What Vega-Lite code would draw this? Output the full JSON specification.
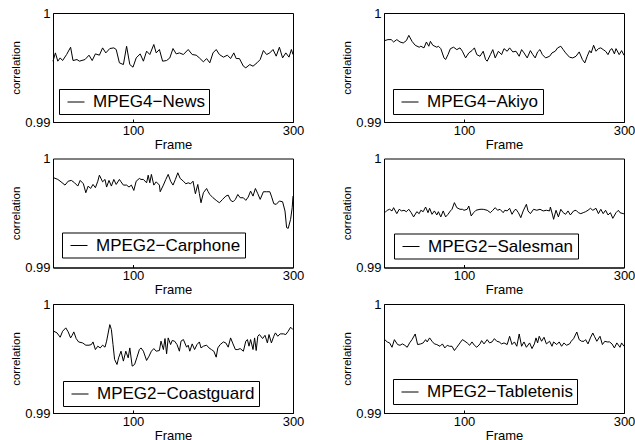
{
  "$schema": "https://vega.github.io/schema/vega-lite/v6.json",
  "padding": {"left": 10, "top": 6, "right": 0, "bottom": 0},
  "bounds": "flush",
  "columns": 2,
  "spacing": {"row": 36.5, "column": 91},
  "datasets": {
    "news": [
      {"frame":0,"corr":0.99558},{"frame":3,"corr":0.99634},{"frame":6,"corr":0.99558},{"frame":9,"corr":0.99588},{"frame":12,"corr":0.99564},{"frame":17,"corr":0.99619},{"frame":22,"corr":0.99686},{"frame":25,"corr":0.99564},{"frame":30,"corr":0.99573},{"frame":33,"corr":0.99558},{"frame":40,"corr":0.99573},{"frame":45,"corr":0.99613},{"frame":49,"corr":0.99564},{"frame":53,"corr":0.99625},{"frame":58,"corr":0.99613},{"frame":62,"corr":0.9968},{"frame":66,"corr":0.99634},{"frame":71,"corr":0.99674},{"frame":76,"corr":0.9968},{"frame":79,"corr":0.99665},{"frame":83,"corr":0.99543},{"frame":88,"corr":0.99527},{"frame":92,"corr":0.99695},{"frame":96,"corr":0.99527},{"frame":100,"corr":0.99503},{"frame":104,"corr":0.99588},{"frame":109,"corr":0.99625},{"frame":113,"corr":0.99558},{"frame":117,"corr":0.9965},{"frame":121,"corr":0.99619},{"frame":126,"corr":0.99711},{"frame":129,"corr":0.99634},{"frame":133,"corr":0.99665},{"frame":137,"corr":0.99558},{"frame":142,"corr":0.99564},{"frame":146,"corr":0.99588},{"frame":150,"corr":0.99674},{"frame":154,"corr":0.99625},{"frame":158,"corr":0.99634},{"frame":163,"corr":0.99619},{"frame":169,"corr":0.99665},{"frame":174,"corr":0.99619},{"frame":179,"corr":0.99613},{"frame":183,"corr":0.99588},{"frame":188,"corr":0.99552},{"frame":192,"corr":0.99582},{"frame":196,"corr":0.99543},{"frame":200,"corr":0.99634},{"frame":204,"corr":0.99665},{"frame":208,"corr":0.99619},{"frame":213,"corr":0.99595},{"frame":218,"corr":0.99613},{"frame":222,"corr":0.99582},{"frame":226,"corr":0.99634},{"frame":229,"corr":0.99582},{"frame":233,"corr":0.99582},{"frame":238,"corr":0.99512},{"frame":241,"corr":0.99497},{"frame":246,"corr":0.99527},{"frame":250,"corr":0.99512},{"frame":255,"corr":0.99543},{"frame":259,"corr":0.99573},{"frame":263,"corr":0.99656},{"frame":267,"corr":0.99619},{"frame":271,"corr":0.99634},{"frame":275,"corr":0.99665},{"frame":279,"corr":0.99604},{"frame":283,"corr":0.99686},{"frame":287,"corr":0.99588},{"frame":291,"corr":0.99634},{"frame":295,"corr":0.99595},{"frame":298,"corr":0.99665},{"frame":300,"corr":0.99619}
    ],
    "akiyo": [
      {"frame":1,"corr":0.99747},{"frame":5,"corr":0.99756},{"frame":9,"corr":0.99756},{"frame":12,"corr":0.99734},{"frame":16,"corr":0.99756},{"frame":20,"corr":0.99734},{"frame":24,"corr":0.99725},{"frame":28,"corr":0.99747},{"frame":31,"corr":0.99795},{"frame":35,"corr":0.9974},{"frame":39,"corr":0.99704},{"frame":44,"corr":0.99686},{"frame":46,"corr":0.99695},{"frame":50,"corr":0.9968},{"frame":53,"corr":0.99734},{"frame":56,"corr":0.99695},{"frame":58,"corr":0.9974},{"frame":61,"corr":0.99704},{"frame":66,"corr":0.99686},{"frame":68,"corr":0.99695},{"frame":71,"corr":0.99673},{"frame":75,"corr":0.99588},{"frame":77,"corr":0.99573},{"frame":80,"corr":0.99618},{"frame":83,"corr":0.99673},{"frame":87,"corr":0.99686},{"frame":91,"corr":0.99664},{"frame":95,"corr":0.9968},{"frame":98,"corr":0.99649},{"frame":102,"corr":0.99588},{"frame":106,"corr":0.99634},{"frame":110,"corr":0.99655},{"frame":113,"corr":0.9968},{"frame":116,"corr":0.99618},{"frame":120,"corr":0.99603},{"frame":124,"corr":0.99649},{"frame":127,"corr":0.99573},{"frame":129,"corr":0.99558},{"frame":133,"corr":0.99618},{"frame":136,"corr":0.99664},{"frame":139,"corr":0.99588},{"frame":143,"corr":0.99649},{"frame":147,"corr":0.99618},{"frame":150,"corr":0.99673},{"frame":154,"corr":0.99649},{"frame":157,"corr":0.9968},{"frame":161,"corr":0.99643},{"frame":165,"corr":0.99649},{"frame":169,"corr":0.99603},{"frame":172,"corr":0.99664},{"frame":175,"corr":0.99634},{"frame":179,"corr":0.99588},{"frame":183,"corr":0.99655},{"frame":186,"corr":0.99618},{"frame":189,"corr":0.99588},{"frame":192,"corr":0.99643},{"frame":195,"corr":0.99664},{"frame":198,"corr":0.99618},{"frame":202,"corr":0.99588},{"frame":207,"corr":0.99603},{"frame":210,"corr":0.99634},{"frame":214,"corr":0.99649},{"frame":217,"corr":0.9968},{"frame":221,"corr":0.99695},{"frame":224,"corr":0.99664},{"frame":227,"corr":0.99634},{"frame":232,"corr":0.99594},{"frame":236,"corr":0.99588},{"frame":240,"corr":0.99603},{"frame":244,"corr":0.99643},{"frame":248,"corr":0.99573},{"frame":251,"corr":0.99542},{"frame":254,"corr":0.99603},{"frame":257,"corr":0.99655},{"frame":259,"corr":0.99634},{"frame":262,"corr":0.99704},{"frame":265,"corr":0.99649},{"frame":268,"corr":0.99673},{"frame":271,"corr":0.9968},{"frame":274,"corr":0.99664},{"frame":277,"corr":0.99649},{"frame":280,"corr":0.99618},{"frame":283,"corr":0.99664},{"frame":285,"corr":0.99673},{"frame":288,"corr":0.99625},{"frame":290,"corr":0.99673},{"frame":294,"corr":0.99618},{"frame":297,"corr":0.99655},{"frame":300,"corr":0.99612}
    ],
    "carphone": [
      {"frame":1,"corr":0.99823},{"frame":6,"corr":0.99808},{"frame":10,"corr":0.99786},{"frame":15,"corr":0.99756},{"frame":19,"corr":0.99792},{"frame":23,"corr":0.99799},{"frame":27,"corr":0.99777},{"frame":31,"corr":0.99747},{"frame":34,"corr":0.99799},{"frame":38,"corr":0.99768},{"frame":41,"corr":0.99686},{"frame":44,"corr":0.99747},{"frame":47,"corr":0.99725},{"frame":50,"corr":0.99762},{"frame":53,"corr":0.99732},{"frame":56,"corr":0.99792},{"frame":58,"corr":0.99847},{"frame":62,"corr":0.99786},{"frame":65,"corr":0.99808},{"frame":67,"corr":0.99738},{"frame":70,"corr":0.99799},{"frame":73,"corr":0.99747},{"frame":76,"corr":0.99808},{"frame":79,"corr":0.99762},{"frame":83,"corr":0.99808},{"frame":85,"corr":0.99786},{"frame":88,"corr":0.99756},{"frame":92,"corr":0.99756},{"frame":95,"corr":0.99738},{"frame":98,"corr":0.99756},{"frame":101,"corr":0.99707},{"frame":104,"corr":0.99792},{"frame":108,"corr":0.99817},{"frame":110,"corr":0.99808},{"frame":113,"corr":0.99808},{"frame":117,"corr":0.99777},{"frame":119,"corr":0.99847},{"frame":121,"corr":0.99777},{"frame":123,"corr":0.99854},{"frame":126,"corr":0.99756},{"frame":129,"corr":0.99786},{"frame":133,"corr":0.99756},{"frame":134,"corr":0.99695},{"frame":138,"corr":0.99756},{"frame":141,"corr":0.99808},{"frame":144,"corr":0.99854},{"frame":147,"corr":0.99792},{"frame":150,"corr":0.99756},{"frame":153,"corr":0.99808},{"frame":156,"corr":0.99869},{"frame":159,"corr":0.99817},{"frame":163,"corr":0.99792},{"frame":166,"corr":0.99768},{"frame":169,"corr":0.99777},{"frame":172,"corr":0.99768},{"frame":175,"corr":0.99792},{"frame":178,"corr":0.99677},{"frame":181,"corr":0.99762},{"frame":183,"corr":0.99677},{"frame":185,"corr":0.99594},{"frame":188,"corr":0.99686},{"frame":192,"corr":0.99725},{"frame":194,"corr":0.99695},{"frame":196,"corr":0.9967},{"frame":200,"corr":0.9964},{"frame":204,"corr":0.99616},{"frame":208,"corr":0.99594},{"frame":212,"corr":0.99625},{"frame":216,"corr":0.99655},{"frame":219,"corr":0.99664},{"frame":222,"corr":0.99616},{"frame":225,"corr":0.99603},{"frame":228,"corr":0.99625},{"frame":231,"corr":0.9967},{"frame":234,"corr":0.9964},{"frame":238,"corr":0.9964},{"frame":241,"corr":0.99616},{"frame":244,"corr":0.99646},{"frame":247,"corr":0.99701},{"frame":250,"corr":0.99655},{"frame":253,"corr":0.99725},{"frame":256,"corr":0.99677},{"frame":259,"corr":0.99625},{"frame":263,"corr":0.99695},{"frame":267,"corr":0.99695},{"frame":271,"corr":0.99695},{"frame":273,"corr":0.99655},{"frame":276,"corr":0.99585},{"frame":279,"corr":0.99579},{"frame":283,"corr":0.9961},{"frame":287,"corr":0.99603},{"frame":290,"corr":0.99518},{"frame":292,"corr":0.99366},{"frame":294,"corr":0.99359},{"frame":297,"corr":0.99442},{"frame":299,"corr":0.99549},{"frame":300,"corr":0.99655}
    ],
    "salesman": [
      {"frame":1,"corr":0.99503},{"frame":4,"corr":0.99525},{"frame":7,"corr":0.99534},{"frame":10,"corr":0.99519},{"frame":12,"corr":0.99549},{"frame":16,"corr":0.99494},{"frame":19,"corr":0.99534},{"frame":22,"corr":0.99519},{"frame":25,"corr":0.99525},{"frame":28,"corr":0.99512},{"frame":31,"corr":0.99534},{"frame":34,"corr":0.99503},{"frame":37,"corr":0.99464},{"frame":41,"corr":0.99512},{"frame":44,"corr":0.99494},{"frame":46,"corr":0.99525},{"frame":49,"corr":0.99512},{"frame":52,"corr":0.99555},{"frame":55,"corr":0.99503},{"frame":57,"corr":0.99543},{"frame":60,"corr":0.99488},{"frame":63,"corr":0.99519},{"frame":66,"corr":0.99482},{"frame":68,"corr":0.99512},{"frame":71,"corr":0.99464},{"frame":74,"corr":0.99519},{"frame":77,"corr":0.99464},{"frame":80,"corr":0.99488},{"frame":83,"corr":0.99519},{"frame":85,"corr":0.99534},{"frame":88,"corr":0.99595},{"frame":91,"corr":0.99549},{"frame":95,"corr":0.99534},{"frame":98,"corr":0.99534},{"frame":100,"corr":0.99525},{"frame":104,"corr":0.99534},{"frame":106,"corr":0.99564},{"frame":109,"corr":0.99473},{"frame":112,"corr":0.99503},{"frame":115,"corr":0.99525},{"frame":120,"corr":0.99534},{"frame":124,"corr":0.99534},{"frame":129,"corr":0.99525},{"frame":133,"corr":0.99503},{"frame":136,"corr":0.99525},{"frame":139,"corr":0.99549},{"frame":142,"corr":0.99525},{"frame":145,"corr":0.99534},{"frame":149,"corr":0.99503},{"frame":151,"corr":0.99525},{"frame":154,"corr":0.99519},{"frame":157,"corr":0.99543},{"frame":160,"corr":0.99488},{"frame":163,"corr":0.99525},{"frame":165,"corr":0.99534},{"frame":168,"corr":0.99503},{"frame":171,"corr":0.99457},{"frame":174,"corr":0.99519},{"frame":178,"corr":0.9958},{"frame":180,"corr":0.99519},{"frame":183,"corr":0.99494},{"frame":187,"corr":0.99534},{"frame":191,"corr":0.99525},{"frame":195,"corr":0.99534},{"frame":199,"corr":0.99519},{"frame":203,"corr":0.99525},{"frame":207,"corr":0.99519},{"frame":208,"corr":0.99555},{"frame":211,"corr":0.99473},{"frame":212,"corr":0.99442},{"frame":215,"corr":0.99525},{"frame":218,"corr":0.99464},{"frame":221,"corr":0.99534},{"frame":224,"corr":0.99503},{"frame":227,"corr":0.99488},{"frame":230,"corr":0.99519},{"frame":233,"corr":0.99482},{"frame":237,"corr":0.99519},{"frame":240,"corr":0.99525},{"frame":243,"corr":0.99503},{"frame":246,"corr":0.99494},{"frame":249,"corr":0.99503},{"frame":252,"corr":0.99512},{"frame":255,"corr":0.99525},{"frame":258,"corr":0.99543},{"frame":261,"corr":0.99525},{"frame":265,"corr":0.99543},{"frame":268,"corr":0.99494},{"frame":271,"corr":0.99534},{"frame":274,"corr":0.99494},{"frame":277,"corr":0.99525},{"frame":280,"corr":0.99482},{"frame":283,"corr":0.99503},{"frame":286,"corr":0.99451},{"frame":290,"corr":0.99503},{"frame":293,"corr":0.99525},{"frame":295,"corr":0.99503},{"frame":299,"corr":0.99494},{"frame":300,"corr":0.99494}
    ],
    "coastguard": [
      {"frame":1,"corr":0.9975},{"frame":5,"corr":0.99735},{"frame":9,"corr":0.99695},{"frame":12,"corr":0.9975},{"frame":16,"corr":0.99781},{"frame":19,"corr":0.99744},{"frame":22,"corr":0.99689},{"frame":24,"corr":0.99713},{"frame":26,"corr":0.99744},{"frame":29,"corr":0.99683},{"frame":32,"corr":0.99652},{"frame":37,"corr":0.99643},{"frame":41,"corr":0.99622},{"frame":45,"corr":0.99622},{"frame":48,"corr":0.99628},{"frame":50,"corr":0.99652},{"frame":53,"corr":0.99582},{"frame":56,"corr":0.99613},{"frame":59,"corr":0.99597},{"frame":62,"corr":0.99622},{"frame":65,"corr":0.99604},{"frame":67,"corr":0.99659},{"frame":71,"corr":0.99811},{"frame":73,"corr":0.99765},{"frame":75,"corr":0.99628},{"frame":77,"corr":0.99491},{"frame":80,"corr":0.99445},{"frame":82,"corr":0.99506},{"frame":85,"corr":0.99567},{"frame":88,"corr":0.99476},{"frame":91,"corr":0.99567},{"frame":94,"corr":0.99506},{"frame":96,"corr":0.99597},{"frame":99,"corr":0.9943},{"frame":102,"corr":0.99445},{"frame":105,"corr":0.99512},{"frame":108,"corr":0.99582},{"frame":110,"corr":0.99597},{"frame":113,"corr":0.99567},{"frame":117,"corr":0.99482},{"frame":120,"corr":0.99521},{"frame":123,"corr":0.99567},{"frame":126,"corr":0.99591},{"frame":129,"corr":0.99567},{"frame":133,"corr":0.99573},{"frame":135,"corr":0.99659},{"frame":138,"corr":0.99582},{"frame":140,"corr":0.99683},{"frame":142,"corr":0.99543},{"frame":144,"corr":0.99689},{"frame":147,"corr":0.99628},{"frame":149,"corr":0.99665},{"frame":152,"corr":0.99659},{"frame":155,"corr":0.99628},{"frame":158,"corr":0.99567},{"frame":160,"corr":0.99659},{"frame":163,"corr":0.99674},{"frame":167,"corr":0.99604},{"frame":169,"corr":0.99622},{"frame":171,"corr":0.99567},{"frame":174,"corr":0.99634},{"frame":177,"corr":0.99582},{"frame":180,"corr":0.99628},{"frame":183,"corr":0.99652},{"frame":185,"corr":0.99597},{"frame":188,"corr":0.99613},{"frame":192,"corr":0.99622},{"frame":195,"corr":0.99597},{"frame":198,"corr":0.99582},{"frame":201,"corr":0.99567},{"frame":204,"corr":0.99512},{"frame":206,"corr":0.99597},{"frame":209,"corr":0.99628},{"frame":213,"corr":0.99652},{"frame":216,"corr":0.99643},{"frame":219,"corr":0.99604},{"frame":222,"corr":0.99689},{"frame":225,"corr":0.99634},{"frame":228,"corr":0.99582},{"frame":231,"corr":0.99582},{"frame":234,"corr":0.99591},{"frame":238,"corr":0.99567},{"frame":241,"corr":0.99659},{"frame":243,"corr":0.99674},{"frame":245,"corr":0.99613},{"frame":247,"corr":0.99674},{"frame":250,"corr":0.99582},{"frame":252,"corr":0.99689},{"frame":254,"corr":0.99573},{"frame":256,"corr":0.99704},{"frame":258,"corr":0.9972},{"frame":262,"corr":0.99683},{"frame":265,"corr":0.99713},{"frame":268,"corr":0.99643},{"frame":270,"corr":0.9972},{"frame":273,"corr":0.99643},{"frame":276,"corr":0.99704},{"frame":278,"corr":0.99735},{"frame":281,"corr":0.99704},{"frame":284,"corr":0.99726},{"frame":288,"corr":0.99726},{"frame":291,"corr":0.9972},{"frame":294,"corr":0.9975},{"frame":297,"corr":0.99787},{"frame":300,"corr":0.99765}
    ],
    "tabletenis": [
      {"frame":1,"corr":0.99673},{"frame":4,"corr":0.99652},{"frame":7,"corr":0.99643},{"frame":10,"corr":0.99603},{"frame":13,"corr":0.99673},{"frame":17,"corr":0.99628},{"frame":20,"corr":0.99621},{"frame":23,"corr":0.99634},{"frame":26,"corr":0.99621},{"frame":29,"corr":0.99603},{"frame":32,"corr":0.99643},{"frame":35,"corr":0.99673},{"frame":39,"corr":0.99725},{"frame":42,"corr":0.99628},{"frame":46,"corr":0.99634},{"frame":49,"corr":0.99643},{"frame":52,"corr":0.99673},{"frame":54,"corr":0.99652},{"frame":57,"corr":0.99689},{"frame":60,"corr":0.99658},{"frame":63,"corr":0.99634},{"frame":66,"corr":0.99628},{"frame":70,"corr":0.99612},{"frame":73,"corr":0.99634},{"frame":76,"corr":0.99597},{"frame":79,"corr":0.99621},{"frame":82,"corr":0.99612},{"frame":85,"corr":0.99612},{"frame":88,"corr":0.99573},{"frame":91,"corr":0.99603},{"frame":95,"corr":0.99643},{"frame":98,"corr":0.99673},{"frame":100,"corr":0.99664},{"frame":104,"corr":0.99643},{"frame":107,"corr":0.99621},{"frame":110,"corr":0.99652},{"frame":113,"corr":0.99621},{"frame":116,"corr":0.99603},{"frame":120,"corr":0.99634},{"frame":122,"corr":0.99664},{"frame":125,"corr":0.99634},{"frame":129,"corr":0.99673},{"frame":132,"corr":0.99643},{"frame":135,"corr":0.99652},{"frame":138,"corr":0.99682},{"frame":141,"corr":0.99658},{"frame":144,"corr":0.99652},{"frame":147,"corr":0.99634},{"frame":150,"corr":0.99643},{"frame":154,"corr":0.99628},{"frame":157,"corr":0.99704},{"frame":160,"corr":0.99628},{"frame":163,"corr":0.99652},{"frame":166,"corr":0.99612},{"frame":169,"corr":0.99725},{"frame":172,"corr":0.99612},{"frame":175,"corr":0.99652},{"frame":178,"corr":0.99603},{"frame":182,"corr":0.99643},{"frame":185,"corr":0.99591},{"frame":188,"corr":0.99634},{"frame":190,"corr":0.99689},{"frame":192,"corr":0.99643},{"frame":194,"corr":0.99704},{"frame":197,"corr":0.99658},{"frame":200,"corr":0.99695},{"frame":203,"corr":0.99634},{"frame":207,"corr":0.99658},{"frame":210,"corr":0.99612},{"frame":212,"corr":0.99652},{"frame":216,"corr":0.99628},{"frame":219,"corr":0.99652},{"frame":222,"corr":0.99612},{"frame":225,"corr":0.99643},{"frame":228,"corr":0.99621},{"frame":232,"corr":0.99634},{"frame":234,"corr":0.99658},{"frame":237,"corr":0.99682},{"frame":241,"corr":0.99743},{"frame":244,"corr":0.99673},{"frame":247,"corr":0.99658},{"frame":250,"corr":0.99658},{"frame":252,"corr":0.99673},{"frame":255,"corr":0.99634},{"frame":258,"corr":0.99689},{"frame":261,"corr":0.99734},{"frame":263,"corr":0.99704},{"frame":266,"corr":0.99658},{"frame":270,"corr":0.99704},{"frame":273,"corr":0.99628},{"frame":276,"corr":0.99658},{"frame":279,"corr":0.99652},{"frame":282,"corr":0.99652},{"frame":285,"corr":0.99634},{"frame":288,"corr":0.99597},{"frame":291,"corr":0.99643},{"frame":295,"corr":0.99603},{"frame":297,"corr":0.99643},{"frame":300,"corr":0.99612}
    ]
  },
  "concat": [
    {
      "width": 240, "height": 109,
      "data": {"name": "news"},
      "mark": {"type": "line", "strokeWidth": 1},
      "encoding": {
        "x": {"field": "frame", "type": "quantitative", "scale": {"domain": [0, 300], "nice": false}, "axis": {"values": [100, 300], "title": "Frame"}},
        "y": {"field": "corr", "type": "quantitative", "scale": {"domain": [0.99, 1], "nice": false, "zero": false}, "axis": {"values": [0.99, 1], "format": "~g", "title": "correlation"}},
        "color": {"datum": "MPEG4−News", "scale": {"range": ["black"]}, "legend": {"title": null, "legendX": 6, "legendY": 76}}
      }
    },
    {
      "width": 240, "height": 109,
      "data": {"name": "akiyo"},
      "mark": {"type": "line", "strokeWidth": 1},
      "encoding": {
        "x": {"field": "frame", "type": "quantitative", "scale": {"domain": [0, 300], "nice": false}, "axis": {"values": [100, 300], "title": "Frame"}},
        "y": {"field": "corr", "type": "quantitative", "scale": {"domain": [0.99, 1], "nice": false, "zero": false}, "axis": {"values": [0.99, 1], "format": "~g", "title": "correlation"}},
        "color": {"datum": "MPEG4−Akiyo", "scale": {"range": ["black"]}, "legend": {"title": null, "legendX": 9, "legendY": 76}}
      }
    },
    {
      "width": 240, "height": 109,
      "data": {"name": "carphone"},
      "mark": {"type": "line", "strokeWidth": 1},
      "encoding": {
        "x": {"field": "frame", "type": "quantitative", "scale": {"domain": [0, 300], "nice": false}, "axis": {"values": [100, 300], "title": "Frame"}},
        "y": {"field": "corr", "type": "quantitative", "scale": {"domain": [0.99, 1], "nice": false, "zero": false}, "axis": {"values": [0.99, 1], "format": "~g", "title": "correlation"}},
        "color": {"datum": "MPEG2−Carphone", "scale": {"range": ["black"]}, "legend": {"title": null, "legendX": 9, "legendY": 74}}
      }
    },
    {
      "width": 240, "height": 109,
      "data": {"name": "salesman"},
      "mark": {"type": "line", "strokeWidth": 1},
      "encoding": {
        "x": {"field": "frame", "type": "quantitative", "scale": {"domain": [0, 300], "nice": false}, "axis": {"values": [100, 300], "title": "Frame"}},
        "y": {"field": "corr", "type": "quantitative", "scale": {"domain": [0.99, 1], "nice": false, "zero": false}, "axis": {"values": [0.99, 1], "format": "~g", "title": "correlation"}},
        "color": {"datum": "MPEG2−Salesman", "scale": {"range": ["black"]}, "legend": {"title": null, "legendX": 10, "legendY": 75}}
      }
    },
    {
      "width": 240, "height": 109,
      "data": {"name": "coastguard"},
      "mark": {"type": "line", "strokeWidth": 1},
      "encoding": {
        "x": {"field": "frame", "type": "quantitative", "scale": {"domain": [0, 300], "nice": false}, "axis": {"values": [100, 300], "title": "Frame"}},
        "y": {"field": "corr", "type": "quantitative", "scale": {"domain": [0.99, 1], "nice": false, "zero": false}, "axis": {"values": [0.99, 1], "format": "~g", "title": "correlation"}},
        "color": {"datum": "MPEG2−Coastguard", "scale": {"range": ["black"]}, "legend": {"title": null, "legendX": 10, "legendY": 77}}
      }
    },
    {
      "width": 240, "height": 109,
      "data": {"name": "tabletenis"},
      "mark": {"type": "line", "strokeWidth": 1},
      "encoding": {
        "x": {"field": "frame", "type": "quantitative", "scale": {"domain": [0, 300], "nice": false}, "axis": {"values": [100, 300], "title": "Frame"}},
        "y": {"field": "corr", "type": "quantitative", "scale": {"domain": [0.99, 1], "nice": false, "zero": false}, "axis": {"values": [0.99, 1], "format": "~g", "title": "correlation"}},
        "color": {"datum": "MPEG2−Tabletenis", "scale": {"range": ["black"]}, "legend": {"title": null, "legendX": 9, "legendY": 75}}
      }
    }
  ],
  "resolve": {"scale": {"color": "independent"}, "legend": {"color": "independent"}},
  "config": {
    "font": "Liberation Sans",
    "background": "white",
    "view": {"stroke": "black", "strokeWidth": 1},
    "axis": {"domainColor": "black", "domainWidth": 1, "labelColor": "black", "titleColor": "black", "grid": false, "labelFontSize": 13, "titleFontSize": 13, "titleFontWeight": "normal", "labelFont": "Liberation Sans", "titleFont": "Liberation Sans"},
    "axisX": {"labelFlush": false, "ticks": true, "tickSize": -3, "tickColor": "black", "labelPadding": 5, "titlePadding": 1},
    "axisY": {"ticks": false, "labelPadding": 3, "titlePadding": 3, "titleFontSize": 11.5},
    "legend": {"orient": "none", "strokeColor": "black", "fillColor": "white", "padding": 4, "symbolType": "stroke", "symbolSize": 289, "symbolStrokeWidth": 1, "symbolOffset": 4, "labelOffset": 8, "labelFontSize": 17, "labelFont": "Liberation Sans", "labelColor": "black", "labelLimit": 0}
  }
}
